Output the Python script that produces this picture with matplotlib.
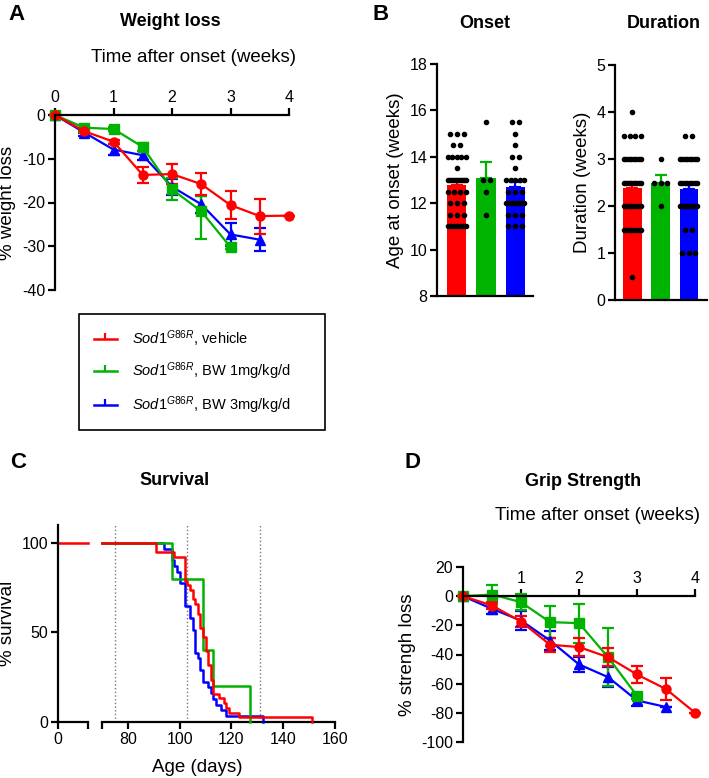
import numpy as np
import matplotlib
matplotlib.use("Agg")
import matplotlib.pyplot as plt
from matplotlib.lines import Line2D

plt.rcParams['font.family'] = ['Liberation Sans', 'DejaVu Sans']
plt.rcParams['mathtext.fontset'] = 'custom'
plt.rcParams['mathtext.rm'] = 'Liberation Sans'
plt.rcParams['mathtext.it'] = 'Liberation Sans:italic'
plt.rcParams['axes.unicode_minus'] = False

RED, GREEN, BLUE = '#ff0000', '#00b300', '#0000ff'
colors = [RED, GREEN, BLUE]

# --- A: weight loss (% of onset weight) ---
wl_weeks = [0, 0.5, 1, 1.5, 2, 2.5, 3, 3.5, 4]
wl_veh = [0, -3.7, -6.1, -13.7, -13.5, -15.8, -20.6, -23.1, -23.0]
wl_veh_err = [0, 0.5, 0.5, 1.8, 2.2, 2.5, 3.2, 4.0, 0]
wl_bw1 = [0, -2.9, -3.2, -7.3, -17.0, -22.0, -30.2]
wl_bw1_lo = [0, 0.7, 0.4, 1.0, 2.5, 6.3, 0.5]
wl_bw1_hi = [0, 0.7, 0.4, 1.0, 2.5, 3.5, 0.5]
wl_bw3 = [0, -4.0, -7.9, -9.2, -16.4, -20.4, -27.3, -28.5]
wl_bw3_err = [0, 0.7, 1.2, 1.0, 1.8, 2.0, 2.7, 2.6]

# --- B: onset age and disease duration (weeks), values and counts ---
onset_levels = [11, 11.5, 12, 12.5, 13, 13.5, 14, 14.5, 15, 15.5]
onset_veh_n = [7, 3, 3, 4, 10, 1, 5, 2, 3, 0]
onset_bw1_n = [0, 1, 0, 1, 2, 0, 0, 0, 0, 1]
onset_bw3_n = [3, 3, 8, 3, 5, 1, 2, 1, 1, 2]
dur_levels = [0.5, 1, 1.5, 2, 2.5, 3, 3.5, 4]
dur_veh_n = [1, 0, 8, 8, 8, 8, 4, 1]
dur_bw1_n = [0, 0, 0, 1, 3, 1, 0, 0]
dur_bw3_n = [0, 3, 2, 8, 8, 8, 2, 0]

# --- C: survival, day of death and number of deaths ---
death_veh = [91, 98, 102, 103, 104, 105, 106, 107, 108, 109, 110, 111, 112, 113, 115, 117, 118, 119, 123, 151]
death_veh_n = [2, 1, 5, 1, 1, 2, 1, 2, 3, 2, 3, 3, 3, 3, 1, 1, 1, 1, 1, 1]
death_bw1 = [97, 109, 113, 127]
death_bw1_n = [1, 2, 1, 1]
death_bw3 = [94, 97, 98, 99, 100, 102, 104, 105, 106, 107, 108, 109, 111, 112, 113, 114, 116, 118, 132]
death_bw3_n = [1, 2, 1, 1, 2, 4, 2, 2, 4, 1, 2, 2, 1, 1, 1, 1, 1, 1, 1]
ref_days = [75, 103, 131]

# --- D: grip strength loss ---
gs_weeks = [0, 0.5, 1, 1.5, 2, 2.5, 3, 3.5, 4]
gs_veh = [0, -6.4, -17.4, -33.3, -34.9, -41.8, -53.7, -63.7, -79.9]
gs_veh_err = [0, 2.5, 4.0, 4.7, 6.0, 6.0, 5.7, 7.8, 0]
gs_bw1 = [0, 1.1, -4.1, -17.8, -18.5, -41.8, -68.3]
gs_bw1_err = [0, 6.5, 5.5, 11.0, 13.3, 20.0, 2.0]
gs_bw3 = [0, -8.7, -16.7, -30.4, -46.8, -55.5, -71.5, -76.0]
gs_bw3_err = [0, 3.7, 6.3, 6.2, 5.2, 6.8, 3.7, 0]

labels = [r'$\mathit{Sod1}^{\mathit{G86R}}$, vehicle',
          r'$\mathit{Sod1}^{\mathit{G86R}}$, BW 1mg/kg/d',
          r'$\mathit{Sod1}^{\mathit{G86R}}$, BW 3mg/kg/d']

LAB = 13.5   # axis label size
TIT = 13     # panel title size
TCK = 11.5   # tick label size

W, H = 709, 778
fig = plt.figure(figsize=(W / 100, H / 100), dpi=100)


def box(l, t, r, b):
    return [l / W, 1 - b / H, (r - l) / W, (b - t) / H]


def top_axis_style(ax):
    ax.spines['top'].set_position(('data', 0))
    ax.spines['bottom'].set_visible(False)
    ax.spines['right'].set_visible(False)
    for s in ['top', 'left']:
        ax.spines[s].set_linewidth(1.6)
    ax.xaxis.set_ticks_position('top')
    ax.xaxis.set_label_position('top')
    ax.tick_params(width=1.6, length=5, labelsize=TCK, pad=2)


def line_errs(ax, x, y, err, c, m):
    eb = ax.errorbar(x[:len(y)], y, yerr=err, color=c, marker=m, ms=6.5, lw=1.6,
                     elinewidth=1.6, capsize=4, capthick=1.6)
    for a in eb.get_children():
        a.set_clip_on(False)


# ---------- A ----------
axA = fig.add_axes(box(55, 115, 289, 290))
top_axis_style(axA)
line_errs(axA, wl_weeks, wl_bw3, wl_bw3_err, BLUE, '^')
line_errs(axA, wl_weeks, wl_bw1, [wl_bw1_lo, wl_bw1_hi], GREEN, 's')
line_errs(axA, wl_weeks, wl_veh, wl_veh_err, RED, 'o')
axA.set_xlim(0, 4)
axA.set_ylim(-40, 0)
axA.set_xticks([0, 1, 2, 3, 4])
axA.set_yticks([0, -10, -20, -30, -40])
axA.set_xlabel('Time after onset (weeks)', fontsize=LAB)
axA.xaxis.set_label_coords(0.59, 1.30)
axA.set_ylabel('% weight loss', fontsize=LAB)
fig.text(170 / W, 1 - 22 / H, 'Weight loss', fontsize=TIT, fontweight='bold', ha='center', va='center')
fig.text(8 / W, 1 - 14 / H, 'A', fontsize=16, fontweight='bold', ha='left', va='center')


# ---------- B ----------
def dot_bars(ax, levels, counts_list):
    for i, (counts, c) in enumerate(zip(counts_list, colors)):
        vals = np.repeat(levels, counts)
        mean = vals.mean()
        sem = vals.std(ddof=1) / np.sqrt(len(vals))
        ax.bar(i, mean, width=0.65, color=c, zorder=2)
        ax.errorbar(i, mean, yerr=[[0], [sem]], color=c, lw=1.6, capsize=4,
                    capthick=1.6, zorder=2.5)
        for lv, k in zip(levels, counts):
            if k == 0:
                continue
            step = 0.24 if k == 1 else min(0.24, 0.62 / (k - 1))
            xs = i + (np.arange(k) - (k - 1) / 2) * step
            ax.scatter(xs, [lv] * k, s=9, color='black', zorder=3, clip_on=False)
    for s in ['top', 'right']:
        ax.spines[s].set_visible(False)
    for s in ['left', 'bottom']:
        ax.spines[s].set_linewidth(1.6)
    ax.set_xticks([])
    ax.tick_params(axis='y', width=1.6, length=5, labelsize=TCK, pad=2)


axB1 = fig.add_axes(box(437, 64, 533, 296))
dot_bars(axB1, onset_levels, [onset_veh_n, onset_bw1_n, onset_bw3_n])
axB1.set_xlim(-0.67, 2.6)
axB1.set_ylim(8, 18)
axB1.set_yticks([8, 10, 12, 14, 16, 18])
axB1.set_ylabel('Age at onset (weeks)', fontsize=LAB)
fig.text(485 / W, 1 - 24 / H, 'Onset', fontsize=TIT, fontweight='bold', ha='center', va='center')

axB2 = fig.add_axes(box(615, 65, 707, 300))
dot_bars(axB2, dur_levels, [dur_veh_n, dur_bw1_n, dur_bw3_n])
axB2.set_xlim(-0.62, 2.65)
axB2.set_ylim(0, 5)
axB2.set_yticks([0, 1, 2, 3, 4, 5])
axB2.set_ylabel('Duration (weeks)', fontsize=LAB)
fig.text(664 / W, 1 - 24 / H, 'Duration', fontsize=TIT, fontweight='bold', ha='center', va='center')
fig.text(372 / W, 1 - 14 / H, 'B', fontsize=16, fontweight='bold', ha='left', va='center')

# ---------- legend ----------
handles = [Line2D([0], [0], color=c, lw=1.8, marker=2, ms=4, mew=1.6) for c in colors]
fig.legend(handles, labels, loc='upper left', bbox_to_anchor=box(79, 314, 325, 428),
           mode='expand', borderaxespad=0, fontsize=10.5, frameon=True, fancybox=False,
           edgecolor='black', framealpha=1, borderpad=1.0, labelspacing=0.8,
           handlelength=1.6, handletextpad=1.0,
           numpoints=1).get_frame().set_linewidth(1.2)

# ---------- C ----------
axC1 = fig.add_axes(box(58, 525, 88, 722))
axC2 = fig.add_axes(box(102, 525, 335, 722))
for ax in (axC1, axC2):
    for s in ['top', 'right']:
        ax.spines[s].set_visible(False)
    for s in ['left', 'bottom']:
        ax.spines[s].set_linewidth(1.6)
    ax.tick_params(width=1.6, length=5, labelsize=TCK, pad=2)
    ax.set_ylim(0, 110)
axC2.spines['left'].set_visible(False)
axC2.tick_params(axis='y', left=False, labelleft=False)

axC1.set_xlim(0, 11.4)
axC1.set_xticks([0, 11.4])
axC1.set_xticklabels(['0', ''])
axC1.set_yticks([0, 50, 100])
axC1.plot([0, 11.4], [100, 100], color=RED, lw=1.8, clip_on=False)
axC1.set_ylabel('% survival', fontsize=LAB)

axC2.set_xlim(70, 160)
axC2.set_xticks([70, 80, 100, 120, 140, 160])
axC2.set_xticklabels(['', '80', '100', '120', '140', '160'])
for d in ref_days:
    axC2.axvline(d, color='#777777', ls=':', lw=1.0, zorder=1)
for days, n, c in [(death_bw3, death_bw3_n, BLUE), (death_bw1, death_bw1_n, GREEN),
                   (death_veh, death_veh_n, RED)]:
    total = sum(n)
    surv = 100 * (total - np.cumsum(n)) / total
    xs = [70] + list(days)
    ys = [100] + list(surv)
    axC2.step(xs, ys, where='post', color=c, lw=1.8, clip_on=False, zorder=3)
fig.text(197 / W, 1 - 767 / H, 'Age (days)', fontsize=LAB, ha='center', va='center')
fig.text(175 / W, 1 - 481 / H, 'Survival', fontsize=TIT, fontweight='bold', ha='center', va='center')
fig.text(10 / W, 1 - 462 / H, 'C', fontsize=16, fontweight='bold', ha='left', va='center')

# ---------- D ----------
axD = fig.add_axes(box(463, 567, 695, 742))
top_axis_style(axD)
line_errs(axD, gs_weeks, gs_bw3, gs_bw3_err, BLUE, '^')
line_errs(axD, gs_weeks, gs_bw1, gs_bw1_err, GREEN, 's')
line_errs(axD, gs_weeks, gs_veh, gs_veh_err, RED, 'o')
axD.set_xlim(0, 4)
axD.set_ylim(-100, 20)
axD.set_xticks([1, 2, 3, 4])
axD.set_yticks([20, 0, -20, -40, -60, -80, -100])
axD.set_xlabel('Time after onset (weeks)', fontsize=LAB)
axD.xaxis.set_label_coords(0.58, 1.27)
axD.set_ylabel('% strengh loss', fontsize=LAB)
fig.text(583 / W, 1 - 482 / H, 'Grip Strength', fontsize=TIT, fontweight='bold', ha='center', va='center')
fig.text(405 / W, 1 - 462 / H, 'D', fontsize=16, fontweight='bold', ha='left', va='center')

fig.savefig('out.png', dpi=100)
